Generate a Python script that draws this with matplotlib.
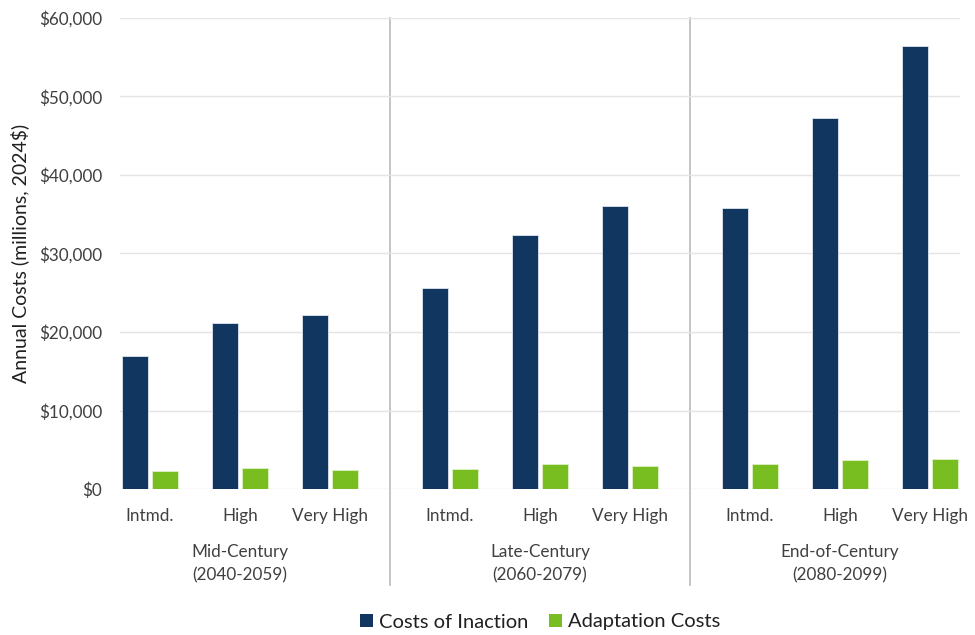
import matplotlib
matplotlib.use("Agg")
import matplotlib.pyplot as plt
import matplotlib.transforms as mtransforms
from matplotlib.patches import Patch
from matplotlib.ticker import FuncFormatter

plt.rcParams['font.family'] = ['Lato', 'DejaVu Sans']

periods = ["Mid-Century\n(2040-2059)", "Late-Century\n(2060-2079)", "End-of-Century\n(2080-2099)"]
scenarios = ["Intmd.", "High", "Very High"]
inaction = [17000, 21200, 22150, 25600, 32300, 36000, 35800, 47200, 56400]
adaptation = [2240, 2670, 2370, 2600, 3200, 2960, 3180, 3690, 3810]
series_names = ["Costs of Inaction", "Adaptation Costs"]

navy = "#11365F"
green = "#78BE21"
text_color = "#404040"

fig = plt.figure(figsize=(9.75, 6.35), dpi=100)
ax = fig.add_axes([120/975, (635-489)/635, (960-120)/975, 471/635])

# positions: groups separated by extra gap
xs = []
for g in range(len(periods)):
    for i in range(len(scenarios)):
        xs.append(5 + g*10 + i*3)

w = 0.87
ax.bar([x - 0.5 for x in xs], inaction, width=w, color=navy, edgecolor="#dfe6ee", linewidth=0.6, zorder=3)
ax.bar([x + 0.5 for x in xs], adaptation, width=w, color=green, edgecolor="#dff0c8", linewidth=0.6, zorder=3)

ax.set_xlim(4, 32)
ax.set_ylim(0, 60000)
ax.set_yticks(range(0, 60001, 10000))
ax.yaxis.set_major_formatter(FuncFormatter(lambda v, p: f"${int(v):,}"))
ax.tick_params(axis='y', length=0, labelsize=12.3, labelcolor=text_color, pad=13)
ax.set_xticks([])
ax.grid(axis='y', color="#E4E4E4", linewidth=1.0, zorder=0)
for s in ax.spines.values():
    s.set_visible(False)
ax.set_ylabel("Annual Costs (millions, 2024$)", fontsize=14, color="#202020", labelpad=7)

trans = mtransforms.blended_transform_factory(ax.transData, ax.transAxes)
# scenario labels
for k, x in enumerate(xs):
    ax.text(x, -27/471, scenarios[k % 3], transform=trans, ha='center', va='center',
            fontsize=12.3, color=text_color)
# period labels
for g, p in enumerate(periods):
    ax.text(xs[g*3+1], -75/471, p, transform=trans, ha='center', va='center',
            fontsize=12.3, color=text_color, linespacing=1.55)
# separators
for g in range(1, len(periods)):
    sx = (xs[g*3-1] + xs[g*3]) / 2
    ax.plot([sx, sx], [1.0, -96/471], transform=trans, color="#BFBFBF",
            linewidth=1.3, clip_on=False, zorder=1)

handles = [Patch(facecolor=navy, label=series_names[0]),
           Patch(facecolor=green, label=series_names[1])]
fig.legend(handles=handles, loc='center', bbox_to_anchor=(540/975, 13/635), ncol=2,
           frameon=False, fontsize=14.5, handlelength=0.65, handleheight=0.65,
           handletextpad=0.3, columnspacing=1.0, labelcolor="#202020")

fig.savefig("out.png", dpi=100)
